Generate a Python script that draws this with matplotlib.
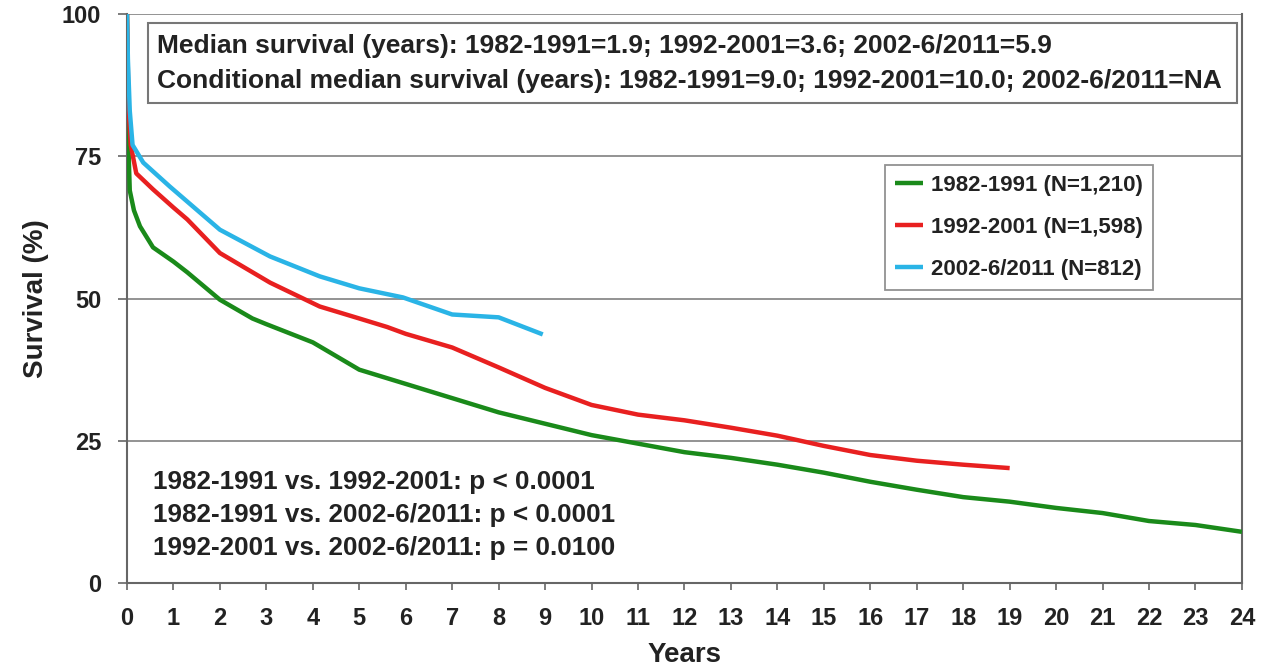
import matplotlib
matplotlib.use("Agg")
import matplotlib.pyplot as plt
from matplotlib.patches import Rectangle

plt.rcParams['font.family'] = ['Liberation Sans', 'DejaVu Sans']
plt.rcParams['font.weight'] = 'bold'

# Data
years_8291 = [0, 0.03, 0.06, 0.15, 0.28, 0.56, 1.0, 1.3, 2, 2.7, 3, 4, 5, 6, 7, 8, 9, 10, 11, 12, 13, 14, 15, 16, 17, 18, 19, 20, 21, 22, 23, 24]
surv_8291 = [100, 77, 69, 65.5, 62.7, 59, 56.5, 54.6, 49.8, 46.5, 45.5, 42.3, 37.5, 35, 32.5, 30, 28, 26, 24.5, 23, 22, 20.8, 19.4, 17.8, 16.4, 15.1, 14.3, 13.2, 12.3, 10.9, 10.2, 9.0]

years_9201 = [0, 0.03, 0.08, 0.2, 0.56, 1.0, 1.3, 2, 3.08, 4.15, 5, 5.6, 6, 7, 8, 9, 10, 11, 12, 13, 14, 15, 16, 17, 18, 19]
surv_9201 = [100, 84, 77, 72, 69.2, 66, 63.9, 58, 52.8, 48.6, 46.5, 45, 43.8, 41.4, 37.9, 34.3, 31.3, 29.6, 28.6, 27.3, 25.9, 24.1, 22.5, 21.5, 20.8, 20.2]

years_0211 = [0, 0.02, 0.06, 0.12, 0.35, 0.92, 2, 3.08, 4.15, 5, 5.94, 7.0, 8.0, 8.95]
surv_0211 = [100, 92, 83, 77, 73.9, 69.7, 62.1, 57.4, 53.9, 51.8, 50.2, 47.2, 46.7, 43.7]

series_labels = ['1982-1991 (N=1,210)', '1992-2001 (N=1,598)', '2002-6/2011 (N=812)']
series_colors = ['#1a8a1a', '#e82020', '#2ab4e6']

x_ticks = list(range(0, 25))
y_ticks = [0, 25, 50, 75, 100]

box_lines = ['Median survival (years): 1982-1991=1.9; 1992-2001=3.6; 2002-6/2011=5.9',
             'Conditional median survival (years): 1982-1991=9.0; 1992-2001=10.0; 2002-6/2011=NA']
p_lines = ['1982-1991 vs. 1992-2001: p < 0.0001',
           '1982-1991 vs. 2002-6/2011: p < 0.0001',
           '1992-2001 vs. 2002-6/2011: p = 0.0100']

fig = plt.figure(figsize=(12.66, 6.71), dpi=100)
ax = fig.add_axes([0.1003, 0.1311, 0.8807, 0.8479])

ax.set_xlim(0, 24)
ax.set_ylim(0, 100)

for yv in y_ticks[1:]:
    ax.axhline(yv, color='#8a8a8a', lw=1.3, zorder=1)

for xs, ys, lab, col in zip([years_8291, years_9201, years_0211],
                            [surv_8291, surv_9201, surv_0211],
                            series_labels, series_colors):
    ax.plot(xs, ys, color=col, lw=3.2, label=lab, zorder=3,
            solid_joinstyle='round', solid_capstyle='butt')

ax.set_xticks(x_ticks)
ax.set_yticks(y_ticks)
ax.tick_params(axis='x', direction='out', length=5, width=1.2, color='#666666',
               labelsize=17, pad=12)
ax.tick_params(axis='y', direction='out', length=6.5, width=1.2, color='#666666',
               labelsize=17, pad=12)
for lab in ax.get_xticklabels() + ax.get_yticklabels():
    lab.set_fontweight('bold')
    lab.set_color('#222222')

ax.spines['top'].set_visible(False)
for s in ['left', 'bottom', 'right']:
    ax.spines[s].set_color('#666666')
    ax.spines[s].set_linewidth(1.5)

ax.set_xlabel('Years', fontsize=20, fontweight='bold', color='#222222', labelpad=9)
ax.set_ylabel('Survival (%)', fontsize=20, fontweight='bold', color='#222222', labelpad=9)

# Top text box
ax.add_patch(Rectangle((0.019, 0.844), 0.977, 0.140, transform=ax.transAxes,
                       facecolor='white', edgecolor='#777777', lw=1.5, zorder=4))
ax.text(0.027, 0.944, box_lines[0], transform=ax.transAxes, fontsize=19,
        fontweight='bold', color='#222222', va='center', ha='left', zorder=5)
ax.text(0.027, 0.882, box_lines[1], transform=ax.transAxes, fontsize=19,
        fontweight='bold', color='#222222', va='center', ha='left', zorder=5)

# p-value texts
for i, t in enumerate(p_lines):
    ax.text(0.023, 0.177 - i * 0.058, t, transform=ax.transAxes, fontsize=18.8,
            fontweight='bold', color='#222222', va='center', ha='left', zorder=5)

leg = ax.legend(loc='upper left', bbox_to_anchor=(0.68, 0.735), fontsize=16,
                frameon=True, fancybox=False, handlelength=1.25, handletextpad=0.35,
                borderpad=0.45, labelspacing=0.95, borderaxespad=0)
leg.get_frame().set_edgecolor('#777777')
leg.get_frame().set_linewidth(1.3)
for t in leg.get_texts():
    t.set_fontweight('bold')
    t.set_color('#222222')

fig.savefig('out.png', dpi=100)
